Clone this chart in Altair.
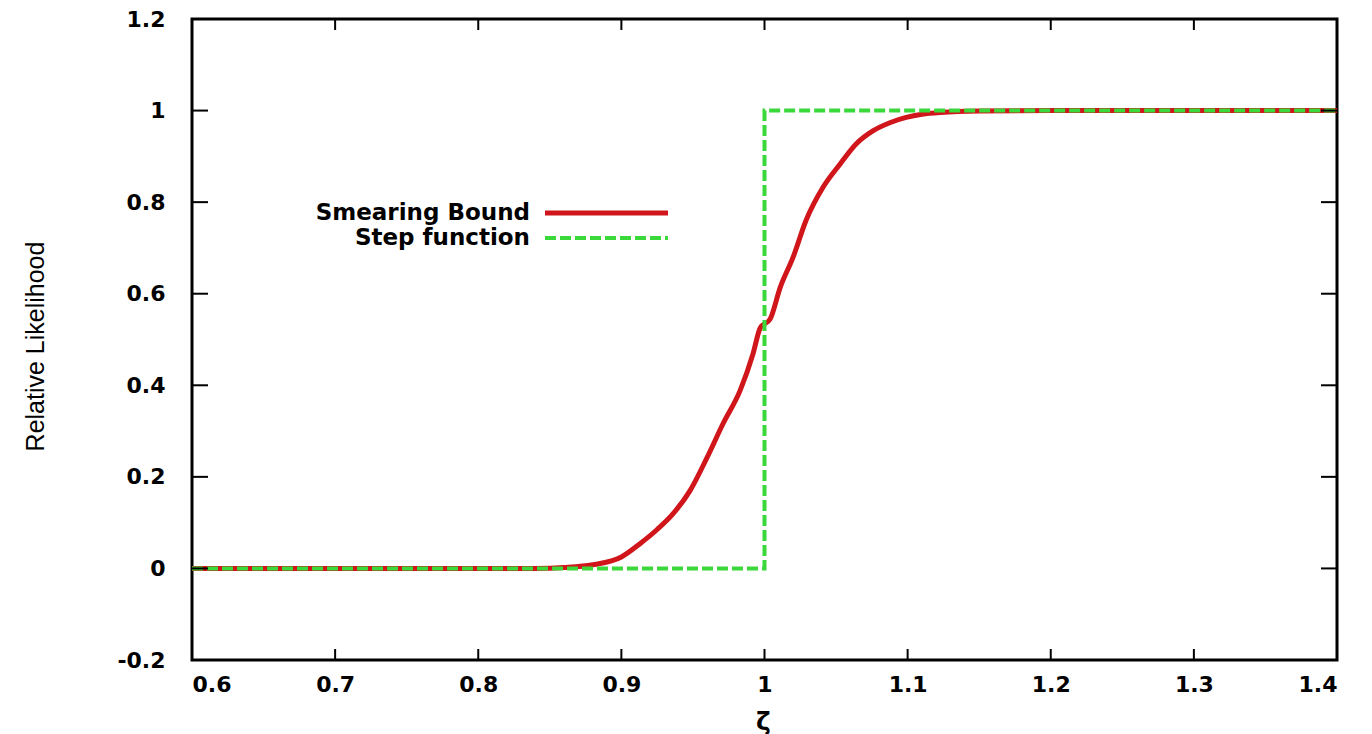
import altair as alt
import pandas as pd

# ---- data ----
smear_x = [0.60, 0.70, 0.80, 0.84, 0.86, 0.88, 0.90, 0.913, 0.925, 0.936, 0.948, 0.960,
           0.971, 0.983, 0.992, 0.997, 1.004, 1.011, 1.020, 1.029, 1.041, 1.053, 1.064,
           1.076, 1.088, 1.099, 1.110, 1.123, 1.150, 1.200, 1.300, 1.400]
smear_y = [0.0, 0.0, 0.0, 0.0, 0.002, 0.008, 0.025, 0.054, 0.085, 0.119, 0.170, 0.243,
           0.316, 0.389, 0.469, 0.525, 0.545, 0.614, 0.680, 0.760, 0.833, 0.884, 0.927,
           0.956, 0.974, 0.985, 0.992, 0.996, 0.999, 1.0, 1.0, 1.0]
step_x = [0.6, 1.0, 1.0, 1.4]
step_y = [0.0, 0.0, 1.0, 1.0]
x_ticks = [0.6, 0.7, 0.8, 0.9, 1.0, 1.1, 1.2, 1.3, 1.4]
y_ticks = [-0.2, 0.0, 0.2, 0.4, 0.6, 0.8, 1.0, 1.2]
legend_labels = ["Smearing Bound", "Step function"]
colors = ["#d0161a", "#3ad83a"]

W, H = 1145, 641
FONT = "DejaVu Sans"
LABEL_EXPR = "datum.value < 0 ? '-' + format(-datum.value, '~g') : format(datum.value, '~g')"

smear = pd.DataFrame({"x": smear_x, "y": smear_y, "o": range(len(smear_x))})
step = pd.DataFrame({"x": step_x, "y": step_y, "o": range(len(step_x))})
xt = pd.DataFrame({"x": x_ticks})
yt = pd.DataFrame({"y": y_ticks})

xs = alt.Scale(domain=[0.6, 1.4], nice=False, zero=False)
ys = alt.Scale(domain=[-0.2, 1.2], nice=False, zero=False)

xaxis = alt.Axis(values=x_ticks, labelExpr=LABEL_EXPR, ticks=False, tickSize=0, domain=False,
                 grid=False, labelFont=FONT, labelFontWeight="bold", labelFontSize=22,
                 labelColor="black", labelPadding=14, title="ζ", titleFont=FONT,
                 titleFontSize=25, titleFontWeight="bold", titleColor="black", titleX=571,
                 titleY=61, titleAlign="center", titleBaseline="middle")
yaxis = alt.Axis(values=y_ticks, labelExpr=LABEL_EXPR, ticks=False, tickSize=0, domain=False,
                 grid=False, labelFont=FONT, labelFontWeight="bold", labelFontSize=22,
                 labelColor="black", labelPadding=27, title="Relative Likelihood",
                 titleFont="Liberation Sans", titleFontSize=25, titleFontWeight="normal",
                 titleColor="black", titleX=-157, titleY=327, titleAngle=270,
                 titleAlign="center", titleBaseline="middle")

X = alt.X("x:Q", scale=xs, axis=xaxis)
Y = alt.Y("y:Q", scale=ys, axis=yaxis)

red = alt.Chart(smear).mark_line(color=colors[0], strokeWidth=5, interpolate="monotone").encode(
    x=X, y=Y, order="o:Q")
green = alt.Chart(step).mark_line(color=colors[1], strokeWidth=4, strokeDash=[11, 4]).encode(
    x=X, y=Y, order="o:Q")

tick_bottom = alt.Chart(xt).mark_rule(color="black", strokeWidth=2).encode(
    x=X, y=alt.value(H), y2=alt.value(H - 11))
tick_top = alt.Chart(xt).mark_rule(color="black", strokeWidth=2).encode(
    x=X, y=alt.value(0), y2=alt.value(11))
tick_left = alt.Chart(yt).mark_rule(color="black", strokeWidth=2).encode(
    y=Y, x=alt.value(0), x2=alt.value(16))
tick_right = alt.Chart(yt).mark_rule(color="black", strokeWidth=2).encode(
    y=Y, x=alt.value(W), x2=alt.value(W - 16))

# manual legend (label left of sample, gnuplot style)
leg_text = [
    alt.Chart(pd.DataFrame({"t": [lab]})).mark_text(
        align="right", baseline="middle", font=FONT, fontSize=23, fontWeight="bold",
        color="black").encode(text="t:N", x=alt.value(338), y=alt.value(yy))
    for lab, yy in zip(legend_labels, [194, 219])
]
leg_red = alt.Chart(pd.DataFrame({"t": [legend_labels[0]]})).mark_rule(
    color=colors[0], strokeWidth=5).encode(x=alt.value(353), x2=alt.value(476), y=alt.value(194))
leg_green = alt.Chart(pd.DataFrame({"t": [legend_labels[1]]})).mark_rule(
    color=colors[1], strokeWidth=4, strokeDash=[11, 4]).encode(
    x=alt.value(353), x2=alt.value(476), y=alt.value(219))

chart = alt.layer(
    red, green, tick_bottom, tick_top, tick_left, tick_right, *leg_text, leg_red, leg_green
).properties(
    width=W, height=H,
    autosize=alt.AutoSizeParams(type="none"),
    padding={"left": 192, "top": 19, "right": 35, "bottom": 74},
    background="white",
).configure_view(stroke="black", strokeWidth=3)

chart.save("out.html", embed_options={"renderer": "svg", "actions": False})
